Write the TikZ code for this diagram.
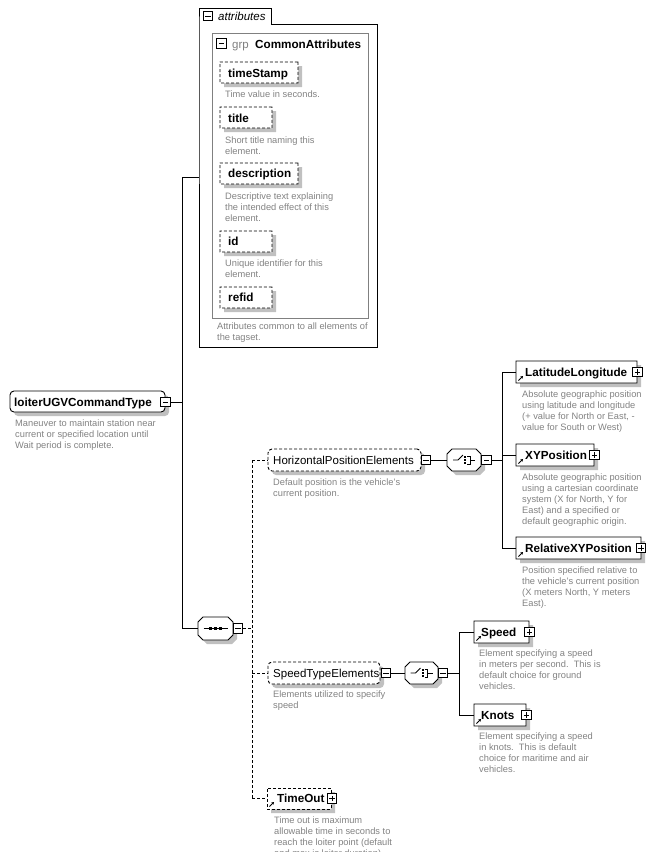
\documentclass[tikz,border=0pt]{standalone}
\usepackage{fontspec}
\setmainfont{Liberation Sans}
\usetikzlibrary{arrows.meta,backgrounds}
\definecolor{shadowgrey}{RGB}{192,192,192}
\definecolor{descgrey}{RGB}{130,130,130}
\definecolor{grpgrey}{RGB}{128,128,128}
\newcommand{\mkbox}[6][inv]{\node[#1, minimum width={#5-#3}, minimum height={#6-#4}] (#2) at ({(#3+#5)/2},{(#4+#6)/2}) {};}
\newcommand{\shbox}[7][0.01pt]{%
 \fill[shadowgrey, rounded corners=#1] (#4+4,#5+4) rectangle (#6+4,#7+4);
 \node[#2, rounded corners=#1, minimum width={#6-#4}, minimum height={#7-#5}] (#3) at ({(#4+#6)/2},{(#5+#7)/2}) {};}
\newcommand{\octo}[4]{%
 \fill[shadowgrey] (#1+9,#2+4) -- (#3-1,#2+4) -- (#3+4,#2+9) -- (#3+4,#4-1) -- (#3-1,#4+4) -- (#1+9,#4+4) -- (#1+4,#4-1) -- (#1+4,#2+9) -- cycle;
 \draw[line width=0.9pt,fill=white] (#1+5,#2) -- (#3-5,#2) -- (#3,#2+5) -- (#3,#4-5) -- (#3-5,#4) -- (#1+5,#4) -- (#1,#4-5) -- (#1,#2+5) -- cycle;}
\newcommand{\choiceicon}[2]{\begin{scope}[shift={(#1,#2)}, line width=0.8pt]
 \draw (-11,0) -- (-6,0) -- (-1,-5);
 \fill (0,-4) rectangle (2,-2); \fill (0,-1) rectangle (2,1); \fill (0,2) rectangle (2,4);
 \draw (3,-4) -- (6,-4) -- (6,4) -- (3,4);
 \draw (6,0) -- (11,0);
\end{scope}}
\newcommand{\seqicon}[2]{\begin{scope}[shift={(#1,#2)}, line width=0.8pt]
 \draw (-12,0) -- (12,0);
 \fill (-6.5,-1.5) rectangle (-3.5,1.5); \fill (-1.5,-1.5) rectangle (1.5,1.5); \fill (3.5,-1.5) rectangle (6.5,1.5);
\end{scope}}
\newcommand{\refarrow}[1]{\draw[line width=0.8pt,-{Stealth[length=2.6pt,width=3pt]}] ([xshift=2.5pt,yshift=2.5pt]#1.south west) -- ([xshift=7pt,yshift=7pt]#1.south west);}
\begin{document}
\begin{tikzpicture}[x=1pt,y=-1pt,
 inv/.style={rectangle, inner sep=0pt, outer sep=0pt, draw=none},
 elembox/.style={rectangle, draw, fill=white, line width=0.9pt, inner sep=0pt, outer sep=0pt},
 optbox/.style={elembox, dash pattern=on 3pt off 2pt},
 btn/.style={rectangle, draw, fill=white, line width=0.7pt, minimum size=9.5pt, inner sep=0pt, outer sep=0pt},
 btnm/.style={btn, path picture={\draw[line width=0.7pt] ([xshift=2pt]path picture bounding box.west) -- ([xshift=-2pt]path picture bounding box.east);}},
 btnp/.style={btn, path picture={\draw[line width=0.7pt] ([xshift=2pt]path picture bounding box.west) -- ([xshift=-2pt]path picture bounding box.east); \draw[line width=0.7pt] ([yshift=-2pt]path picture bounding box.north) -- ([yshift=2pt]path picture bounding box.south);}},
 nametext/.style={anchor=base west, inner sep=0pt, font=\fontsize{11.7}{14}\selectfont\bfseries},
 grptext/.style={anchor=base west, inner sep=0pt, font=\fontsize{11.5}{14}\selectfont},
 desc/.style={anchor=north west, inner sep=0pt, align=left, text=descgrey, font=\fontsize{9.3}{11}\selectfont},
 conn/.style={line width=0.9pt},
 dconn/.style={conn, dash pattern=on 3pt off 2pt}
]
\useasboundingbox (0,0) rectangle (661,852);
% ---------- attributes ----------
\node[inv, minimum width=178, minimum height=339] (attrs) at (288,177.5) {};
\draw[line width=0.9pt] (199,24) -- (199,8) -- (271,8) -- (271,24) -- (377,24) -- (377,347) -- (199,347) -- cycle;
\node[btnm] (attrbtn) at (208,16) {};
\node[grptext, font=\fontsize{11.5}{14}\selectfont\itshape] (attrlbl) at (218,20) {attributes};
\draw[line width=0.9pt, grpgrey] (212,33) rectangle (368,318);
\node[btnm] (grpbtn) at (221.5,43.5) {};
\node[grptext, text=grpgrey] (grplbl) at (232,48) {grp};
\node[nametext] (calbl) at (255,48) {CommonAttributes};
\shbox{optbox}{ts}{220}{62}{298}{83}
\node[nametext] (tstxt) at (228,77) {timeStamp};
\node[desc] (tsdesc) at (225,89.3) {\rule{0pt}{8pt}Time value in seconds.};
\shbox{optbox}{ttl}{220}{107}{272}{128}
\node[nametext] (ttltxt) at (228,122) {title};
\node[desc] (ttldesc) at (225,135.3) {\rule{0pt}{8pt}Short title naming this\\element.};
\shbox{optbox}{dsc}{220}{163}{298}{184}
\node[nametext] (dsctxt) at (228,177.5) {description};
\node[desc] (dscdesc) at (225,191.3) {\rule{0pt}{8pt}Descriptive text explaining\\the intended effect of this\\element.};
\shbox{optbox}{idb}{220}{231}{272}{252}
\node[nametext] (idtxt) at (228,245.5) {id};
\node[desc] (iddesc) at (225,257.8) {\rule{0pt}{8pt}Unique identifier for this\\element.};
\shbox{optbox}{rfd}{220}{287}{272}{308}
\node[nametext] (rfdtxt) at (228,301.5) {refid};
\node[desc] (attrdesc) at (217,321.3) {\rule{0pt}{8pt}Attributes common to all elements of\\the tagset.};
% ---------- root ----------
\shbox[4pt]{elembox}{root}{10}{391}{165}{412}
\node[nametext] (roottxt) at (14,406.5) {loiterUGVCommandType};
\node[btnm] (rootbtn) at (165.5,402) {};
\node[desc] (rootdesc) at (15,417.8) {\rule{0pt}{8pt}Maneuver to maintain station near\\current or specified location until\\Wait period is complete.};
% ---------- sequence ----------
\coordinate (v1) at (182,0);
\coordinate (v2) at (252,0);
\coordinate (v3) at (502,0);
\coordinate (v4) at (459,0);
\octo{198}{617}{233}{640}
\mkbox{seq}{198}{617}{233}{640}
\seqicon{215.5}{628.5}
\node[btnm] (seqbtn) at (238,628.5) {};
% ---------- HorizontalPositionElements ----------
\shbox[4pt]{optbox}{hpe}{268}{449}{421}{471}
\node[grptext] (hpetxt) at (273,464.2) {HorizontalPositionElements};
\node[btnm] (hpebtn) at (426,460) {};
\node[desc] (hpedesc) at (273,477.3) {\rule{0pt}{8pt}Default position is the vehicle's\\current position.};
\octo{447}{449}{481}{471}
\mkbox{chA}{447}{449}{481}{471}
\choiceicon{464}{460}
\node[btnm] (chAbtn) at (486.5,460) {};
% LatitudeLongitude
\shbox{elembox}{latlon}{516}{361}{637}{383}
\node[nametext] (latlontxt) at (525,376.2) {LatitudeLongitude};
\node[btnp] (latlonbtn) at (637.5,372) {};
\refarrow{latlon}
\node[desc] (latlondesc) at (522,389.3) {\rule{0pt}{8pt}Absolute geographic position\\using latitude and longitude\\(+ value for North or East, -\\value for South or West)};
% XYPosition
\shbox{elembox}{xy}{516}{444}{594}{466}
\node[nametext] (xytxt) at (525,459.2) {XYPosition};
\node[btnp] (xybtn) at (594.5,455) {};
\refarrow{xy}
\node[desc] (xydesc) at (522,472.3) {\rule{0pt}{8pt}Absolute geographic position\\using a cartesian coordinate\\system (X for North, Y for\\East) and a specified or\\default geographic origin.};
% RelativeXYPosition
\shbox{elembox}{relxy}{516}{537}{641}{559}
\node[nametext] (relxytxt) at (525,552.2) {RelativeXYPosition};
\node[btnp] (relxybtn) at (641,548) {};
\refarrow{relxy}
\node[desc] (relxydesc) at (522,565.3) {\rule{0pt}{8pt}Position specified relative to\\the vehicle's current position\\(X meters North, Y meters\\East).};
% ---------- SpeedTypeElements ----------
\shbox[4pt]{optbox}{spdt}{268}{662}{380}{684}
\node[grptext] (spdttxt) at (273,677.2) {SpeedTypeElements};
\node[btnm] (spdtbtn) at (386,673) {};
\node[desc] (spdtdesc) at (273,689.3) {\rule{0pt}{8pt}Elements utilized to specify\\speed};
\octo{405}{662}{438}{684}
\mkbox{chB}{405}{662}{438}{684}
\choiceicon{421.5}{673}
\node[btnm] (chBbtn) at (443,673) {};
% Speed
\shbox{elembox}{speed}{474}{621}{529}{643}
\node[nametext] (speedtxt) at (481,636.2) {Speed};
\node[btnp] (speedbtn) at (529.5,632) {};
\refarrow{speed}
\node[desc] (speeddesc) at (479,648.3) {\rule{0pt}{8pt}Element specifying a speed\\in meters per second.\ \ This is\\default choice for ground\\vehicles.};
% Knots
\shbox{elembox}{knots}{474}{704}{526}{726}
\node[nametext] (knotstxt) at (481,719.2) {Knots};
\node[btnp] (knotsbtn) at (526.5,715) {};
\refarrow{knots}
\node[desc] (knotsdesc) at (479,731.3) {\rule{0pt}{8pt}Element specifying a speed\\in knots.\ \ This is default\\choice for maritime and air\\vehicles.};
% ---------- TimeOut ----------
\shbox{optbox}{tout}{267}{788}{331}{809}
\node[nametext] (touttxt) at (277,802.7) {TimeOut};
\node[btnp] (toutbtn) at (332,798.5) {};
\refarrow{tout}
\node[desc] (toutdesc) at (274,815.3) {\rule{0pt}{8pt}Time out is maximum\\allowable time in seconds to\\reach the loiter point (default\\and max is loiter duration).};
% ---------- connectors ----------
\begin{scope}[on background layer]
\draw[conn] (rootbtn.east) -- (rootbtn.east -| v1);
\draw[conn] (attrs.west) -- (attrs.west -| v1) -- (seq.west -| v1) -- (seq.west);
\draw[dconn] (seqbtn.east) -- (seqbtn.east -| v2);
\draw[dconn] (hpe.west -| v2) -- (tout.west -| v2);
\draw[dconn] (hpe.west -| v2) -- (hpe.west);
\draw[dconn] (spdt.west -| v2) -- (spdt.west);
\draw[dconn] (tout.west -| v2) -- (tout.west);
\draw[conn] (hpebtn.east) -- (chA.west);
\draw[conn] (chAbtn.east) -- (chAbtn.east -| v3);
\draw[conn] (latlon.west -| v3) -- (relxy.west -| v3);
\draw[conn] (latlon.west -| v3) -- (latlon.west);
\draw[conn] (xy.west -| v3) -- (xy.west);
\draw[conn] (relxy.west -| v3) -- (relxy.west);
\draw[conn] (spdtbtn.east) -- (chB.west);
\draw[conn] (chBbtn.east) -- (chBbtn.east -| v4);
\draw[conn] (speed.west -| v4) -- (knots.west -| v4);
\draw[conn] (speed.west -| v4) -- (speed.west);
\draw[conn] (knots.west -| v4) -- (knots.west);
\end{scope}
\end{tikzpicture}
\end{document}
